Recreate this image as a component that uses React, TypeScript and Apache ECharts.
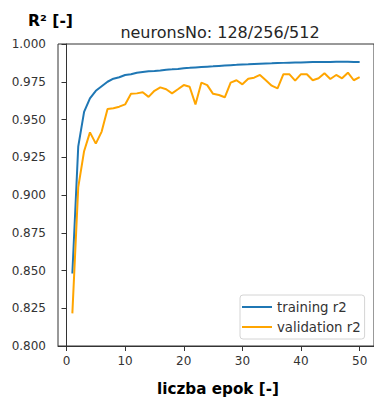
import React, { useEffect, useRef } from "react";
import * as echarts from "echarts";

const epochs: number[] = Array.from({ length: 50 }, (_, i) => i + 1);

const trainingR2: number[] = [
  0.848, 0.932, 0.955, 0.964, 0.969, 0.972, 0.975, 0.977, 0.978, 0.9795,
  0.980, 0.981, 0.9815, 0.982, 0.9822, 0.9825, 0.983, 0.9832, 0.9835, 0.984,
  0.9842, 0.9845, 0.9848, 0.985, 0.9852, 0.9855, 0.9858, 0.986, 0.9862, 0.9865,
  0.9866, 0.9868, 0.987, 0.9871, 0.9872, 0.9874, 0.9875, 0.9876, 0.9877, 0.9878,
  0.9879, 0.988, 0.988, 0.9881, 0.9881, 0.9882, 0.9882, 0.9882, 0.9881, 0.9881,
];

const validationR2: number[] = [
  0.8216, 0.905, 0.929, 0.9415, 0.934, 0.942, 0.957, 0.9575, 0.9585, 0.960,
  0.967, 0.9673, 0.968, 0.965, 0.969, 0.9713, 0.970, 0.9673, 0.970, 0.9728,
  0.9717, 0.960, 0.9744, 0.9728, 0.967, 0.9662, 0.9647, 0.9744, 0.976, 0.9733,
  0.977, 0.9777, 0.9795, 0.976, 0.9724, 0.9706, 0.980, 0.980, 0.9757, 0.980,
  0.980, 0.976, 0.9773, 0.9806, 0.9768, 0.9795, 0.9773, 0.981, 0.976, 0.978,
];

const xTicks: number[] = [0, 10, 20, 30, 40, 50];

const FONT = "DejaVu Sans";

export default function App() {
  const ref = useRef<HTMLDivElement>(null);
  useEffect(() => {
    if (!ref.current) return;
    const chart = echarts.init(ref.current, undefined, { renderer: "svg" });
    const option: any = {
      animation: false,
      textStyle: { fontFamily: FONT },
      title: {
        text: "neuronsNo: 128/256/512",
        left: 220,
        top: 24,
        textAlign: "center",
        padding: 0,
        textStyle: { fontFamily: FONT, fontSize: 16, fontWeight: "normal", color: "#262626" },
      },
      grid: {
        left: 58,
        top: 44,
        right: -10,
        bottom: 54,
        show: true,
        borderColor: "#333",
        borderWidth: 1,
        backgroundColor: "transparent",
      },
      legend: {
        orient: "vertical",
        left: 240,
        top: 295,
        padding: [5, 4, 5, 2],
        icon: "rect",
        itemWidth: 30,
        itemHeight: 2,
        itemGap: 6,
        borderColor: "#d4d4d4",
        borderWidth: 1,
        borderRadius: 3,
        backgroundColor: "rgba(255,255,255,0.8)",
        textStyle: { fontFamily: FONT, fontSize: 13.3, color: "#333", lineHeight: 14 },
        data: ["training r2", "validation r2"],
      },
      xAxis: {
        type: "value",
        min: -1.45,
        max: 52.45,
        splitLine: { show: false },
        axisLine: { lineStyle: { color: "#333" } },
        axisTick: {
          show: true,
          length: 5,
          customValues: xTicks,
          lineStyle: { color: "#333" },
        },
        axisLabel: {
          customValues: xTicks,
          margin: 9,
          fontFamily: FONT,
          fontSize: 12,
          color: "#333",
        },
      },
      yAxis: {
        type: "value",
        min: 0.8,
        max: 1.0,
        interval: 0.025,
        splitLine: { show: false },
        axisLine: { show: true, lineStyle: { color: "#333" } },
        axisTick: { show: true, length: 5, lineStyle: { color: "#333" } },
        axisLabel: {
          margin: 12,
          fontFamily: FONT,
          fontSize: 12,
          color: "#333",
          formatter: (v: number) => v.toFixed(3),
        },
      },
      graphic: [
        {
          type: "text",
          left: 28,
          top: 13,
          style: {
            text: "R² [-]",
            fontFamily: FONT,
            fontSize: 15.6,
            fontWeight: "bold",
            fill: "#000",
          },
        },
        {
          type: "text",
          x: 218,
          y: 389,
          style: {
            text: "liczba epok [-]",
            fontFamily: FONT,
            fontSize: 15.2,
            fontWeight: "bold",
            fill: "#000",
            align: "center",
            verticalAlign: "middle",
          },
        },
      ],
      series: [
        {
          name: "training r2",
          type: "line",
          data: epochs.map((e, i) => [e, trainingR2[i]]),
          symbol: "none",
          lineStyle: { color: "#1f77b4", width: 2 },
          itemStyle: { color: "#1f77b4" },
        },
        {
          name: "validation r2",
          type: "line",
          data: epochs.map((e, i) => [e, validationR2[i]]),
          symbol: "none",
          lineStyle: { color: "#ffa500", width: 2 },
          itemStyle: { color: "#ffa500" },
        },
      ],
    };
    chart.setOption(option);
    return () => chart.dispose();
  }, []);
  return (
    <div
      ref={ref}
      style={{ position: "absolute", left: 0, top: 0, width: 374, height: 400 }}
    />
  );
}
